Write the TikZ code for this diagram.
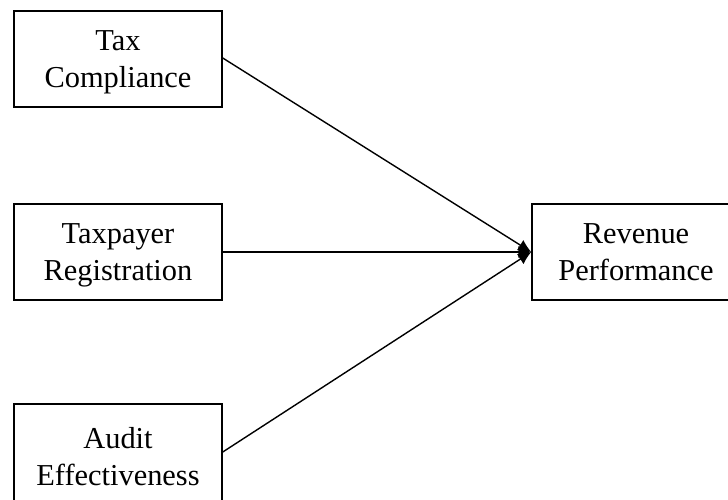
\documentclass[tikz,border=0pt]{standalone}
\usepackage{fontspec}
\setmainfont{Liberation Serif}
\usetikzlibrary{arrows.meta,positioning}

\begin{document}
\begin{tikzpicture}[x=0.5pt,y=-0.5pt,
                    box/.style={draw,line width=0.75pt,minimum width=104pt,minimum height=48pt,
                                align=center,text depth=0pt,font=\fontsize{15.2}{18.5}\selectfont},
                    link/.style={line width=0.7pt,-{Latex[length=6.5pt,width=6pt]}}]
                    \useasboundingbox (0,0) rectangle (728,499);

                    \node (Tax) [box] at (118,59) {Tax\\Compliance};
                    \node (Reg) [box] at (118,252) {Taxpayer\\Registration};
                    \node (Audit) [box,minimum height=52pt] at (118,456) {Audit\\Effectiveness};
                    \node (Rev) [box] at (636,252) {Revenue\\Performance};

                    \draw [link] ([yshift=0.5pt]Tax.east) -- (Rev.west);
                    \draw [link] (Reg.east) -- (Rev.west);
                    \draw [link] ([yshift=2pt]Audit.east) -- (Rev.west);
                \end{tikzpicture}
\end{document}
